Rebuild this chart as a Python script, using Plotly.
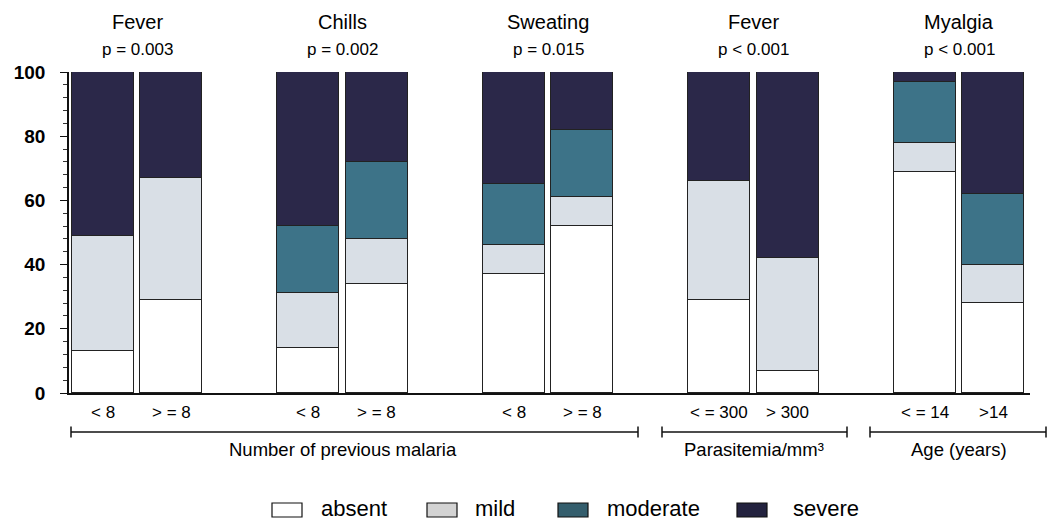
import plotly.graph_objects as go

# ---------------- data ----------------
symptoms = ["Fever", "Chills", "Sweating", "Fever", "Myalgia"]
p_values = ["p = 0.003", "p = 0.002", "p = 0.015", "p < 0.001", "p < 0.001"]
sub_labels = [["< 8", "> = 8"], ["< 8", "> = 8"], ["< 8", "> = 8"],
              ["< = 300", "> 300"], ["< = 14", ">14"]]
factor_labels = ["Number of previous malaria", "Parasitemia/mm³", "Age (years)"]
factor_groups = [[0, 1, 2], [3], [4]]

severity = ["absent", "mild", "moderate", "severe"]
absent   = [13, 29, 14, 34, 37, 52, 29, 7, 69, 28]
mild     = [36, 38, 17, 14, 9, 9, 37, 35, 9, 12]
moderate = [0, 0, 21, 24, 19, 21, 0, 0, 19, 22]
severe   = [51, 33, 48, 28, 35, 18, 34, 58, 3, 38]
y_ticks = [0, 20, 40, 60, 80, 100]

# ---------------- styles ----------------
FONT = "Arial, 'Liberation Sans', sans-serif"
bar_colors = ["#ffffff", "#d9dfe6", "#3d7388", "#2b2849"]
legend_colors = ["#ffffff", "#d3d3d3", "#345e6d", "#23223f"]

W, H = 1048, 522
L, R, T, B = 69, 1030, 72, 393           # plot area in pixels
X0, X1 = -0.496, 13.533                  # x-axis range

def xpx(x):
    return L + (x - X0) / (X1 - X0) * (R - L)

def px2paper_x(p):
    return (p - L) / (R - L)

def px2paper_y(p):
    return (B - p) / (B - T)

positions = [3 * g + j for g in range(len(symptoms)) for j in range(2)]

fig = go.Figure()
series = [absent, mild, moderate, severe]
for name, vals, col in zip(severity, series, bar_colors):
    fig.add_trace(go.Bar(
        x=positions,
        y=[v if v else None for v in vals],
        name=name,
        width=0.905,
        marker=dict(color=col, line=dict(color="#222222", width=1.5)),
        showlegend=False,
        hoverinfo="name+y",
    ))

annotations = []
shapes = []

# group titles and p-values
for g, (s, p) in enumerate(zip(symptoms, p_values)):
    cx = (3 * g + 3 * g + 1) / 2
    annotations.append(dict(x=px2paper_x(xpx(cx)), y=px2paper_y(22.5), xref="paper", yref="paper",
                            text=s, showarrow=False, xanchor="center", yanchor="middle",
                            font=dict(family=FONT, size=20, color="#000")))
    annotations.append(dict(x=px2paper_x(xpx(cx)), y=px2paper_y(49.7), xref="paper", yref="paper",
                            text=p, showarrow=False, xanchor="center", yanchor="middle",
                            font=dict(family=FONT, size=17, color="#000")))
    for j in range(2):
        annotations.append(dict(x=px2paper_x(xpx(3 * g + j)), y=px2paper_y(412.5),
                                xref="paper", yref="paper", text=sub_labels[g][j],
                                showarrow=False, xanchor="center", yanchor="middle",
                                font=dict(family=FONT, size=17, color="#000")))

# brackets and factor labels
bracket_px = [(71, 638), (662, 847), (870, 1046)]
for (a, b), lab, grp in zip(bracket_px, factor_labels, factor_groups):
    yb = px2paper_y(432)
    shapes.append(dict(type="line", xref="paper", yref="paper",
                       x0=px2paper_x(a), x1=px2paper_x(b), y0=yb, y1=yb,
                       line=dict(color="#111", width=1.5)))
    for e in (a, b):
        shapes.append(dict(type="line", xref="paper", yref="paper",
                           x0=px2paper_x(e), x1=px2paper_x(e),
                           y0=px2paper_y(426.5), y1=px2paper_y(437.5),
                           line=dict(color="#111", width=1.5)))
    xs = [xpx(3 * g + j) for g in grp for j in range(2)]
    cx = sum(xs) / len(xs)
    annotations.append(dict(x=px2paper_x(cx), y=px2paper_y(449), xref="paper", yref="paper",
                            text=lab, showarrow=False, xanchor="center", yanchor="middle",
                            font=dict(family=FONT, size=18.5, color="#000")))

# manual legend
legend_px = [(272, 319), (427, 473), (558, 605), (737, 791)]
for (sx, tx), name, col in zip(legend_px, severity, legend_colors):
    shapes.append(dict(type="rect", xref="paper", yref="paper",
                       x0=px2paper_x(sx), x1=px2paper_x(sx + 30),
                       y0=px2paper_y(503), y1=px2paper_y(517),
                       fillcolor=col, line=dict(color="#111", width=1.2)))
    annotations.append(dict(x=px2paper_x(tx), y=px2paper_y(508.5), xref="paper", yref="paper",
                            text=name, showarrow=False, xanchor="left", yanchor="middle",
                            font=dict(family=FONT, size=22, color="#000")))

fig.update_layout(
    width=W, height=H,
    margin=dict(l=L, r=W - R, t=T, b=H - B, pad=0),
    barmode="stack",
    bargap=0,
    plot_bgcolor="white",
    paper_bgcolor="white",
    showlegend=False,
    annotations=annotations,
    shapes=shapes,
    xaxis=dict(range=[X0, X1], showline=True, linecolor="#111", linewidth=1.5,
               showticklabels=False, ticks="", showgrid=False, zeroline=False,
               fixedrange=True),
    yaxis=dict(range=[0, 100], tickvals=y_ticks, showline=True, linecolor="#111",
               linewidth=1.5, ticks="outside", ticklen=7, tickwidth=1.2, tickcolor="#111",
               minor=dict(dtick=4, ticks="outside", ticklen=4, tickwidth=1, tickcolor="#333",
                          showgrid=False),
               ticklabelstandoff=11,
               tickfont=dict(family=FONT, size=19, color="#000", weight="bold"),
               showgrid=False, zeroline=False, fixedrange=True),
)

fig.write_html("out.html")
